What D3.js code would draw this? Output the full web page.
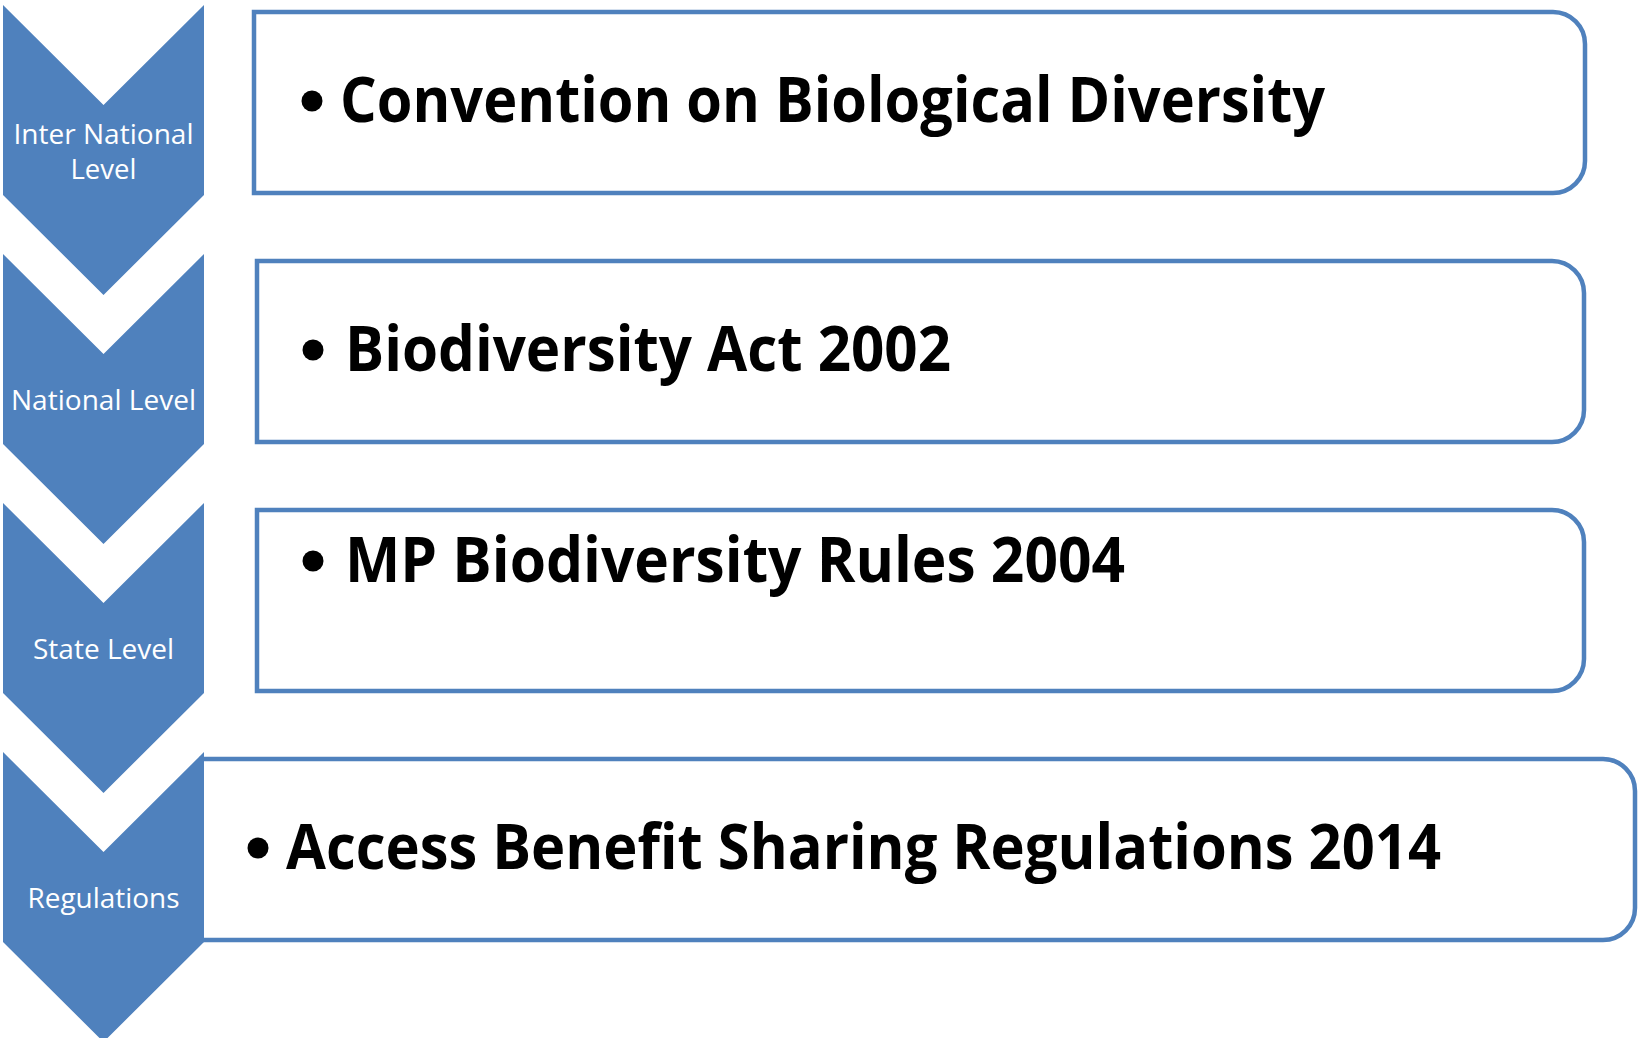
<!DOCTYPE html>
<html>
<head>
<meta charset="utf-8">
<script src="https://cdn.jsdelivr.net/npm/d3@7"></script>
<style>
html,body{margin:0;padding:0;background:#fff;overflow:hidden;}
svg{display:block;}
</style>
</head>
<body>
<svg id="chart" width="1638" height="1038"></svg>
<script>
// ---- data ----
const levels = [["Inter National", "Level"], ["National Level"], ["State Level"], ["Regulations"]];
const items = ["Convention on Biological Diversity", "Biodiversity Act 2002", "MP Biodiversity Rules 2004", "Access Benefit Sharing Regulations 2014"];

// ---- layout ----
const blue = "#4F81BD";
const svg = d3.select("#chart");
const rowIdx = d3.range(levels.length);
const y = d3.scaleLinear().domain([0, levels.length]).range([5, 5 + 249 * levels.length]);
const x = d3.scaleLinear().domain([0, 1]).range([3, 204]); // chevron width

// box geometry per row
const boxL = [254, 257, 257, 201.5];
const boxR = [1585, 1584, 1584, 1635];
const textX = [343, 348, 348, 289];
const bulletX = [312, 313, 313, 258];
const baseOff = [117, 117, 79, 117];
const targetW = [979, 600, 774, 1149];
const labelW = [[178, 64], [183], [139], [150]];
const rad = 32;

function boxPath(l, t, r, b) {
  return `M${l},${t} H${r - rad} A${rad},${rad} 0 0 1 ${r},${t + rad} V${b - rad} A${rad},${rad} 0 0 1 ${r - rad},${b} H${l} Z`;
}

// boxes
svg.selectAll("path.box").data(rowIdx).join("path")
  .attr("class", "box")
  .attr("d", i => boxPath(boxL[i], y(i) + 7, boxR[i], y(i) + 188))
  .attr("fill", "#fff").attr("stroke", blue).attr("stroke-width", 4.5);

// chevrons
svg.selectAll("path.chev").data(rowIdx).join("path")
  .attr("class", "chev")
  .attr("d", i => {
    const t = y(i), l = x(0), r = x(1), m = x(0.5);
    return `M${l},${t} L${m},${t + 100} L${r},${t} L${r},${t + 190} L${m},${t + 290} L${l},${t + 190} Z`;
  })
  .attr("fill", blue);

// chevron labels
const font = "'Open Sans', 'Noto Sans', sans-serif";
rowIdx.forEach(i => {
  const lines = levels[i];
  const center = y(i) + 146;
  lines.forEach((ln, k) => {
    const base = center + 10 + (k - (lines.length - 1) / 2) * 35;
    svg.append("text")
      .attr("x", x(0.5)).attr("y", base)
      .attr("text-anchor", "middle")
      .attr("font-family", font).attr("font-size", 28)
      .attr("fill", "#fff")
      .attr("textLength", labelW[i][k] + 2).attr("lengthAdjust", "spacingAndGlyphs")
      .text(ln);
  });
});

// item texts
rowIdx.forEach(i => {
  const base = y(i) + baseOff[i];
  svg.append("circle")
    .attr("cx", bulletX[i]).attr("cy", base - 21)
    .attr("r", 10.5).attr("fill", "#000");
  svg.append("text")
    .attr("x", textX[i] - 3).attr("y", base)
    .attr("font-family", font).attr("font-weight", "bold").attr("font-size", 62)
    .attr("fill", "#000")
    .attr("textLength", targetW[i] + 6).attr("lengthAdjust", "spacingAndGlyphs")
    .text(items[i]);
});
</script>
</body>
</html>
